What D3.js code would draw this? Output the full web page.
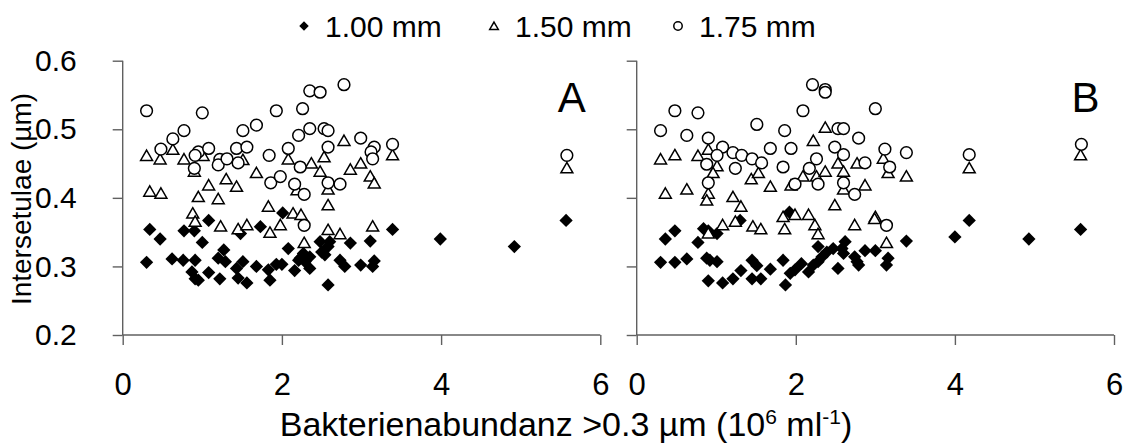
<!DOCTYPE html>
<html>
<head>
<meta charset="utf-8">
<script src="https://cdn.jsdelivr.net/npm/d3@7"></script>
<style>
  body { margin: 0; background: #fff; }
  text { font-family: "Liberation Sans", Arial, sans-serif; fill: #000; }
</style>
</head>
<body>
<svg id="chart" width="1126" height="443"></svg>
<script>
// legend / series names
const seriesNames = ["1.00 mm", "1.50 mm", "1.75 mm"];
const xTicks = [0, 2, 4, 6];
const yTicks = [0.2, 0.3, 0.4, 0.5, 0.6];
const panelLabels = ["A", "B"];

// Panel A  [bacteria abundance, intersetulae]
const a100 = [[0.34,0.354],[0.47,0.340],[0.30,0.306],[0.62,0.311],[0.76,0.309],[0.77,0.352],[0.90,0.352],[0.91,0.309],[0.87,0.292],[0.91,0.282],[0.95,0.280],[1.08,0.291],[1.08,0.367],[1.00,0.335],[1.22,0.282],[1.20,0.312],[1.27,0.324],[1.29,0.307],[1.43,0.297],[1.45,0.283],[1.51,0.307],[1.56,0.276],[1.48,0.348],[1.68,0.300],[1.73,0.358],[1.83,0.295],[1.85,0.280],[1.93,0.303],[2.00,0.303],[2.01,0.378],[2.08,0.326],[2.16,0.294],[2.23,0.312],[2.27,0.319],[2.29,0.307],[2.35,0.297],[2.35,0.314],[2.48,0.336],[2.50,0.321],[2.54,0.317],[2.58,0.329],[2.60,0.336],[2.58,0.273],[2.73,0.309],[2.79,0.300],[2.86,0.334],[2.21,0.309],[2.99,0.302],[3.11,0.337],[3.39,0.354],[3.14,0.300],[3.16,0.308],[3.99,0.340],[4.92,0.329],[5.57,0.367]];
const a150 = [[0.30,0.461],[0.47,0.456],[0.63,0.470],[0.77,0.456],[1.01,0.461],[0.90,0.438],[0.34,0.409],[0.48,0.406],[1.08,0.418],[0.95,0.401],[1.20,0.398],[1.30,0.427],[1.43,0.416],[1.51,0.455],[1.68,0.436],[2.08,0.456],[2.37,0.450],[2.48,0.438],[2.53,0.459],[2.78,0.483],[2.86,0.441],[2.58,0.389],[2.58,0.412],[2.19,0.411],[1.83,0.387],[2.14,0.377],[2.24,0.375],[0.88,0.377],[2.99,0.450],[3.11,0.431],[3.16,0.421],[3.39,0.462],[5.58,0.443],[0.91,0.365],[1.23,0.358],[1.45,0.354],[1.56,0.360],[1.85,0.349],[1.98,0.360],[2.28,0.334],[2.58,0.353],[2.73,0.347],[3.14,0.358]];
const a175 = [[0.30,0.527],[1.00,0.524],[0.77,0.498],[0.63,0.486],[0.48,0.471],[0.95,0.467],[0.91,0.462],[1.08,0.472],[0.90,0.443],[1.22,0.456],[1.20,0.448],[1.31,0.457],[1.43,0.472],[1.56,0.474],[1.51,0.498],[1.68,0.506],[1.45,0.451],[1.84,0.462],[1.93,0.527],[1.86,0.422],[1.98,0.431],[2.08,0.472],[2.21,0.491],[2.26,0.530],[2.35,0.556],[2.48,0.554],[2.78,0.565],[2.35,0.501],[2.53,0.501],[2.58,0.498],[2.58,0.474],[2.23,0.445],[2.16,0.420],[2.28,0.405],[2.58,0.422],[2.73,0.420],[2.99,0.487],[3.16,0.474],[3.12,0.467],[3.14,0.457],[3.39,0.478],[5.58,0.462],[2.28,0.360]];

// Panel B
const b100 = [[0.36,0.340],[0.48,0.352],[0.30,0.306],[0.48,0.306],[0.63,0.311],[0.77,0.335],[0.84,0.355],[0.90,0.352],[1.01,0.348],[0.88,0.312],[0.92,0.309],[1.01,0.307],[0.90,0.279],[1.08,0.276],[1.21,0.282],[1.31,0.294],[1.30,0.367],[1.45,0.282],[1.56,0.282],[1.45,0.309],[1.51,0.301],[1.68,0.296],[1.84,0.309],[1.87,0.273],[1.92,0.379],[1.93,0.290],[1.99,0.295],[2.07,0.304],[2.16,0.292],[2.22,0.302],[2.28,0.307],[2.33,0.314],[2.28,0.329],[2.39,0.321],[2.47,0.326],[2.53,0.297],[2.60,0.319],[2.62,0.336],[2.58,0.326],[2.74,0.314],[2.79,0.302],[2.77,0.307],[2.87,0.323],[3.00,0.323],[3.16,0.312],[3.14,0.302],[3.39,0.337],[4.00,0.343],[4.18,0.367],[4.93,0.340],[5.58,0.354]];
const b150 = [[0.30,0.456],[0.48,0.462],[0.77,0.461],[0.90,0.470],[1.01,0.446],[0.96,0.436],[0.36,0.406],[0.63,0.412],[0.90,0.406],[0.88,0.396],[1.21,0.401],[1.31,0.387],[1.44,0.427],[1.53,0.436],[1.68,0.416],[1.94,0.418],[2.09,0.431],[2.22,0.483],[2.26,0.431],[2.37,0.502],[2.37,0.438],[2.53,0.450],[2.60,0.438],[2.60,0.412],[2.49,0.389],[2.77,0.450],[3.10,0.457],[3.16,0.436],[3.39,0.431],[2.87,0.418],[3.00,0.372],[4.18,0.443],[5.58,0.462],[0.90,0.348],[1.08,0.360],[1.24,0.365],[1.46,0.358],[1.56,0.354],[1.84,0.372],[1.86,0.354],[1.99,0.375],[2.16,0.375],[2.24,0.360],[2.28,0.347],[2.74,0.360],[2.99,0.369],[3.14,0.334]];
const b175 = [[0.48,0.527],[0.77,0.524],[0.30,0.498],[0.63,0.491],[0.90,0.487],[1.08,0.474],[1.01,0.462],[0.88,0.449],[0.90,0.422],[1.21,0.466],[1.32,0.462],[1.45,0.457],[1.57,0.451],[1.24,0.443],[1.51,0.507],[1.68,0.472],[1.84,0.445],[1.86,0.498],[1.94,0.472],[1.99,0.420],[2.09,0.527],[2.21,0.565],[2.37,0.558],[2.37,0.554],[2.17,0.443],[2.26,0.457],[2.28,0.420],[2.49,0.474],[2.53,0.501],[2.60,0.501],[2.60,0.463],[2.60,0.422],[2.74,0.405],[2.79,0.487],[3.00,0.530],[2.87,0.451],[3.12,0.471],[3.18,0.445],[3.39,0.466],[4.18,0.463],[5.59,0.478],[3.14,0.360]];

const svg = d3.select("#chart");
const axisColor = "#606060";

// scales
const y = d3.scaleLinear().domain([0.2, 0.6]).range([335, 60.7]);
const panels = [
    {x: d3.scaleLinear().domain([0, 6]).range([122.7, 600.3]), data: [a100, a150, a175], label: panelLabels[0], showY: true},
    {x: d3.scaleLinear().domain([0, 6]).range([636.7, 1114]), data: [b100, b150, b175], label: panelLabels[1], showY: false}
];

function drawMarker(g, kind, cx, cy, scale) {
    const s = scale || 1;
    if (kind === 0) {
        g.append("path")
            .attr("d", d3.symbol().type(d3.symbolSquare).size(88 * s * s)())
            .attr("transform", `translate(${cx},${cy}) rotate(45)`)
            .attr("fill", "#000");
    } else if (kind === 1) {
        g.append("path")
            .attr("d", d3.symbol().type(d3.symbolTriangle).size(62 * s * s)())
            .attr("transform", `translate(${cx},${cy + 1})`)
            .attr("fill", "#fff").attr("stroke", "#000").attr("stroke-width", 1.5);
    } else {
        g.append("path")
            .attr("d", d3.symbol().type(d3.symbolCircle).size(108 * s * s)())
            .attr("transform", `translate(${cx},${cy})`)
            .attr("fill", "#fff").attr("stroke", "#000").attr("stroke-width", 1.5);
    }
}

panels.forEach(p => {
    // Y axis
    const yAxis = svg.append("g")
        .attr("transform", `translate(${p.x.range()[0]},0)`)
        .call(d3.axisLeft(y).tickValues(yTicks).tickSize(10).tickPadding(36)
            .tickFormat(p.showY ? d3.format(".1f") : ""));
    yAxis.selectAll("text").attr("font-size", 30).attr("text-anchor", "end");

    // X axis
    const xAxis = svg.append("g")
        .attr("transform", `translate(0,${y.range()[0]})`)
        .call(d3.axisBottom(p.x).tickValues(xTicks).tickSize(10).tickPadding(28).tickFormat(d3.format("d")));
    xAxis.selectAll("text").attr("font-size", 31);

    [yAxis, xAxis].forEach(ax => {
        ax.select(".domain").attr("stroke", axisColor).attr("stroke-width", 1.4);
        ax.selectAll(".tick line").attr("stroke", axisColor).attr("stroke-width", 1.4);
    });
    // plain axis lines without the end stubs
    yAxis.select(".domain").attr("d", `M0,${y.range()[1]}V${y.range()[0]}`);
    xAxis.select(".domain").attr("d", `M${p.x.range()[0]},0H${p.x.range()[1]}`);

    // points: diamonds first, then triangles, then circles
    const g = svg.append("g");
    p.data.forEach((series, k) => {
        series.forEach(d => drawMarker(g, k, p.x(d[0]), y(d[1])));
    });

    // panel letter
    svg.append("text")
        .attr("x", p.x.range()[1] - 28.5)
        .attr("y", 111.7)
        .attr("text-anchor", "middle")
        .attr("font-size", 42)
        .text(p.label);
});

// legend
const legendX = [304, 494, 678];
seriesNames.forEach((name, k) => {
    const lg = svg.append("g");
    drawMarker(lg, k, legendX[k], 26, 0.72);
    lg.append("text")
        .attr("x", legendX[k] + 21)
        .attr("y", 36.7)
        .attr("font-size", 30)
        .text(name);
});

// y axis title
svg.append("text")
    .attr("transform", "translate(31,199) rotate(-90)")
    .attr("text-anchor", "middle")
    .attr("font-size", 28)
    .text("Intersetulae (µm)");

// x axis title
const xt = svg.append("text")
    .attr("x", 566)
    .attr("y", 436)
    .attr("text-anchor", "middle")
    .attr("font-size", 34);
xt.append("tspan").text("Bakterienabundanz >0.3 µm (10");
xt.append("tspan").attr("font-size", 21).attr("dy", -12).text("6");
xt.append("tspan").attr("dy", 12).text(" ml");
xt.append("tspan").attr("font-size", 21).attr("dy", -12).text("-1");
xt.append("tspan").attr("dy", 12).text(")");
</script>
</body>
</html>
